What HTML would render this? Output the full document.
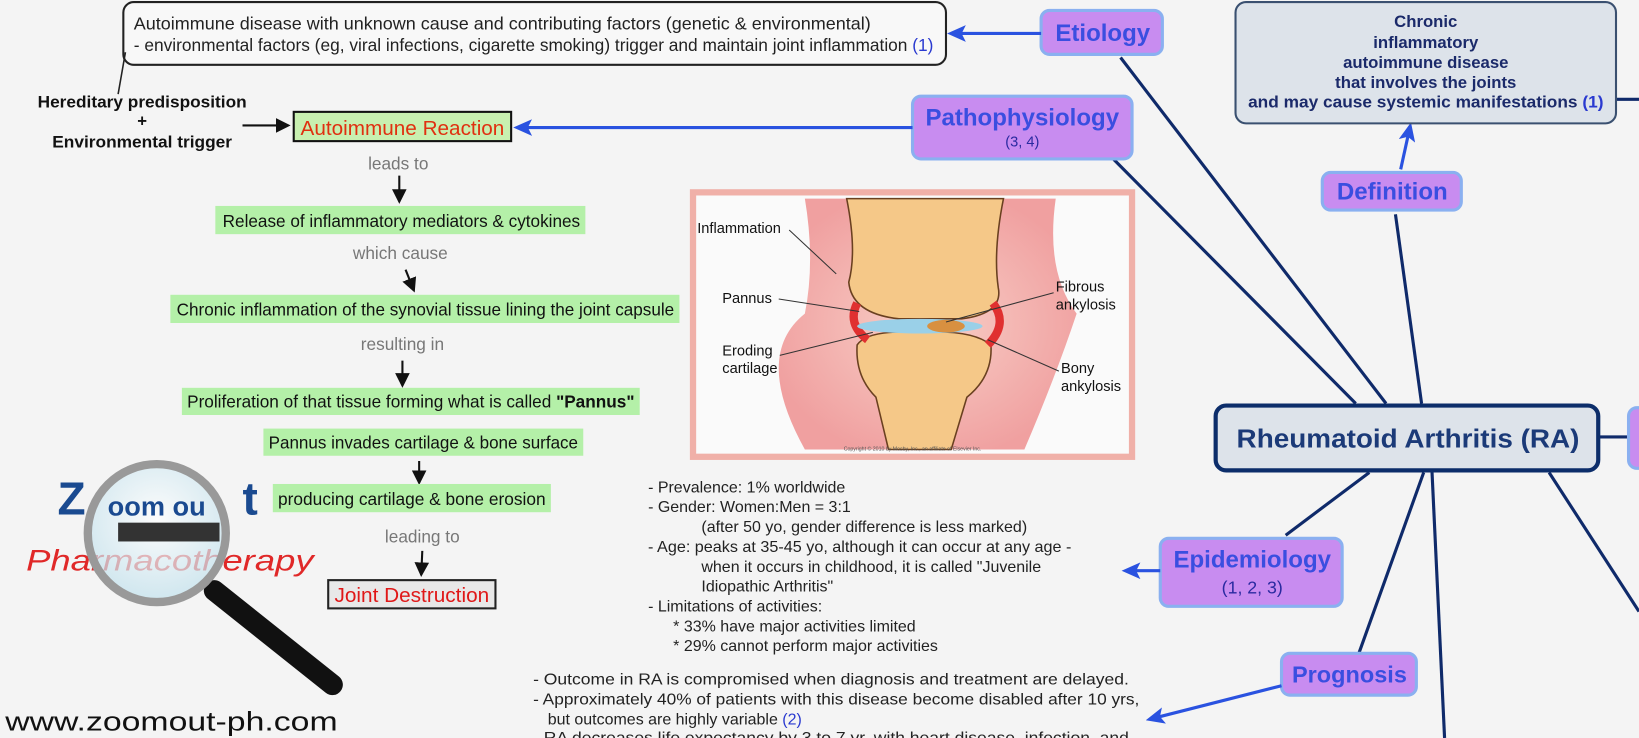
<!DOCTYPE html>
<html><head><meta charset="utf-8"><style>
html,body{margin:0;padding:0;background:#f4f4f4;width:1639px;height:738px;overflow:hidden}
svg{display:block}
text{font-family:"Liberation Sans",Arial,sans-serif}
</style></head><body>
<svg width="1639" height="738" viewBox="0 0 1568 706" xmlns="http://www.w3.org/2000/svg">
<defs>
<marker id="bA" markerWidth="18" markerHeight="16" refX="14" refY="8" orient="auto" markerUnits="userSpaceOnUse"><path d="M0,0 L18,8 L0,16 L4,8 z" fill="#2a52e0"/></marker>
<marker id="kA" markerWidth="14" markerHeight="14" refX="12" refY="7" orient="auto" markerUnits="userSpaceOnUse"><path d="M0,0 L14,7 L0,14 z" fill="#111"/></marker>
<radialGradient id="pg" cx="50%" cy="50%" r="55%"><stop offset="0" stop-color="#f8d0c8"/><stop offset="1" stop-color="#f0a0a0"/></radialGradient>
<radialGradient id="lens" cx="50%" cy="40%" r="60%"><stop offset="0" stop-color="#ffffff" stop-opacity=".7"/><stop offset="1" stop-color="#bfe0ec" stop-opacity=".7"/></radialGradient>
</defs>
<rect width="1568" height="706" fill="#f4f4f4"/>

<!-- RA connector lines -->
<g stroke="#0f2a6a" stroke-width="3" fill="none">
<line x1="1072" y1="55" x2="1326" y2="386"/>
<line x1="1065" y1="152" x2="1297" y2="386"/>
<line x1="1335" y1="205" x2="1360" y2="386"/>
<line x1="1530" y1="418" x2="1568" y2="418"/>
<line x1="1546" y1="95" x2="1568" y2="95"/>
<line x1="1310" y1="452" x2="1230" y2="512"/>
<line x1="1362" y1="452" x2="1300" y2="625"/>
<line x1="1370" y1="452" x2="1382" y2="706"/>
<line x1="1482" y1="452" x2="1568" y2="585"/>
</g>

<!-- Etiology box -->
<rect x="118" y="2" width="787" height="60" rx="10" fill="#f8f8f8" stroke="#222" stroke-width="2"/>
<line x1="120" y1="50" x2="113" y2="90" stroke="#222" stroke-width="1.5"/>
<text x="128" y="28" font-size="16.5" fill="#222" textLength="705" lengthAdjust="spacingAndGlyphs">Autoimmune disease with unknown cause and contributing factors (genetic &amp; environmental)</text>
<text x="128" y="49" font-size="16.5" fill="#222" textLength="765" lengthAdjust="spacingAndGlyphs">- environmental factors (eg, viral infections, cigarette smoking) trigger and maintain joint inflammation <tspan fill="#2a3ad0">(1)</tspan></text>

<!-- purple nodes -->
<g fill="#c88cf0" stroke="#8ab0f0" stroke-width="3">
<rect x="996" y="10" width="116" height="42" rx="8"/>
<rect x="873" y="92" width="210" height="60" rx="8"/>
<rect x="1265" y="165" width="133" height="36" rx="8"/>
<rect x="1110" y="515" width="174" height="65" rx="8"/>
<rect x="1226" y="625" width="129" height="40" rx="8"/>
<rect x="1558" y="390" width="20" height="58" rx="8"/>
</g>
<g font-weight="bold" fill="#3a4ee0" text-anchor="middle">
<text x="1055" y="39" font-size="23">Etiology</text>
<text x="978" y="120" font-size="23">Pathophysiology</text>
<text x="978" y="140" font-size="14" font-weight="normal" fill="#2a2aa0">(3, 4)</text>
<text x="1332" y="191" font-size="23">Definition</text>
<text x="1198" y="543" font-size="23">Epidemiology</text>
<text x="1198" y="568" font-size="17" font-weight="normal" fill="#2a2aa0">(1, 2, 3)</text>
<text x="1291" y="653" font-size="22.5">Prognosis</text>
</g>

<!-- blue arrows -->
<g stroke="#2a52e0" stroke-width="3" marker-end="url(#bA)">
<line x1="996" y1="32" x2="910" y2="32"/>
<line x1="873" y1="122" x2="495" y2="122"/>
<line x1="1340" y1="162" x2="1349" y2="121"/>
<line x1="1110" y1="546" x2="1077" y2="546"/>
<line x1="1226" y1="656" x2="1100" y2="688"/>
</g>

<!-- Definition box -->
<rect x="1182" y="2" width="364" height="116" rx="10" fill="#dde3ea" stroke="#3a5070" stroke-width="2"/>
<g font-size="16" font-weight="bold" fill="#1b2a6a" text-anchor="middle">
<text x="1364" y="26">Chronic</text>
<text x="1364" y="46">inflammatory</text>
<text x="1364" y="65">autoimmune disease</text>
<text x="1364" y="84">that involves the joints</text>
<text x="1364" y="103" textLength="340" lengthAdjust="spacingAndGlyphs">and may cause systemic manifestations <tspan fill="#2a3ad0">(1)</tspan></text>
</g>

<!-- RA -->
<rect x="1163" y="388" width="366" height="62" rx="10" fill="#dde3ea" stroke="#0c2d6a" stroke-width="4"/>
<text x="1347" y="428" font-size="25" fill="#1b3a78" text-anchor="middle" font-weight="bold" textLength="328" lengthAdjust="spacingAndGlyphs">Rheumatoid Arthritis (RA)</text>

<!-- pathophysiology flow -->
<g font-size="16" font-weight="bold" fill="#111" text-anchor="middle">
<text x="136" y="103" textLength="200" lengthAdjust="spacingAndGlyphs">Hereditary predisposition</text>
<text x="136" y="121">+</text>
<text x="136" y="141" textLength="172" lengthAdjust="spacingAndGlyphs">Environmental trigger</text>
</g>
<line x1="232" y1="120" x2="276" y2="120" stroke="#111" stroke-width="2" marker-end="url(#kA)"/>
<rect x="281" y="107" width="208" height="28" fill="#c8f0b0" stroke="#111" stroke-width="2"/>
<text x="385" y="129" font-size="19.5" fill="#e03010" text-anchor="middle" textLength="195" lengthAdjust="spacingAndGlyphs">Autoimmune Reaction</text>
<g font-size="16.5" fill="#777" text-anchor="middle">
<text x="381" y="162">leads to</text>
<text x="383" y="248">which cause</text>
<text x="385" y="335">resulting in</text>
<text x="404" y="519">leading to</text>
</g>
<g stroke="#111" stroke-width="2" marker-end="url(#kA)">
<line x1="382" y1="168" x2="382" y2="193"/>
<line x1="388" y1="258" x2="396" y2="278"/>
<line x1="385" y1="345" x2="385" y2="369"/>
<line x1="401" y1="441" x2="401" y2="462"/>
<line x1="404" y1="527" x2="403" y2="550"/>
</g>
<g fill="#b4f0a8">
<rect x="206" y="197" width="354" height="27"/>
<rect x="163" y="282" width="487" height="27"/>
<rect x="174" y="371" width="438" height="26"/>
<rect x="252" y="410" width="306" height="26"/>
<rect x="261" y="463" width="266" height="27"/>
</g>
<g font-size="16.5" fill="#111" text-anchor="middle">
<text x="384" y="217" textLength="342" lengthAdjust="spacingAndGlyphs">Release of inflammatory mediators &amp; cytokines</text>
<text x="407" y="302" textLength="476" lengthAdjust="spacingAndGlyphs">Chronic inflammation of the synovial tissue lining the joint capsule</text>
<text x="393" y="390" textLength="428" lengthAdjust="spacingAndGlyphs">Proliferation of that tissue forming what is called <tspan font-weight="bold">"Pannus"</tspan></text>
<text x="405" y="429" textLength="296" lengthAdjust="spacingAndGlyphs">Pannus invades cartilage &amp; bone surface</text>
<text x="394" y="483" textLength="256" lengthAdjust="spacingAndGlyphs">producing cartilage &amp; bone erosion</text>
</g>
<rect x="314" y="555" width="160" height="27" fill="#e8e8e8" stroke="#222" stroke-width="2"/>
<text x="394" y="576" font-size="19" fill="#e01818" text-anchor="middle" textLength="148" lengthAdjust="spacingAndGlyphs">Joint Destruction</text>

<!-- joint image -->
<rect x="663" y="184" width="420" height="253" fill="#fafafa" stroke="#f0b0a8" stroke-width="6"/>
<path d="M770,190 L1010,190 Q1000,260 1030,300 Q1010,360 980,430 L770,430 Q720,340 770,300 Q780,250 770,190Z" fill="url(#pg)"/>
<path d="M810,190 L960,190 Q950,240 955,275 Q960,300 920,305 L860,305 Q815,300 812,270 Q820,240 810,190Z" fill="#f5c888" stroke="#6a4020" stroke-width="1.5"/>
<path d="M820,330 Q830,315 880,318 Q930,315 948,330 Q950,360 925,380 L910,430 L850,430 L838,380 Q818,360 820,330Z" fill="#f5c888" stroke="#6a4020" stroke-width="1.5"/>
<path d="M820,290 Q810,310 830,325 M950,290 Q965,310 945,330" stroke="#e03030" stroke-width="8" fill="none"/>
<ellipse cx="880" cy="312" rx="60" ry="7" fill="#9ad0e8"/>
<ellipse cx="905" cy="312" rx="18" ry="6" fill="#d89040"/>
<g font-size="14" fill="#111">
<text x="667" y="223">Inflammation</text>
<text x="691" y="290">Pannus</text>
<text x="691" y="340">Eroding</text>
<text x="691" y="357">cartilage</text>
<text x="1010" y="279">Fibrous</text>
<text x="1010" y="296">ankylosis</text>
<text x="1015" y="357">Bony</text>
<text x="1015" y="374">ankylosis</text>
</g>
<g stroke="#333" stroke-width="1"><line x1="755" y1="220" x2="800" y2="262"/><line x1="745" y1="286" x2="822" y2="298"/><line x1="746" y1="340" x2="835" y2="318"/><line x1="1008" y1="280" x2="905" y2="308"/><line x1="1013" y1="355" x2="945" y2="325"/></g>
<text x="873" y="431" font-size="5" fill="#555" text-anchor="middle">Copyright © 2010 by Mosby, Inc., an affiliate of Elsevier Inc.</text>

<!-- epidemiology text -->
<g font-size="15.3" fill="#222">
<text x="620" y="471">- Prevalence: 1% worldwide</text>
<text x="620" y="490">- Gender: Women:Men = 3:1</text>
<text x="671" y="509">(after 50 yo, gender difference is less marked)</text>
<text x="620" y="528" textLength="405" lengthAdjust="spacingAndGlyphs">- Age: peaks at 35-45 yo, although it can occur at any age -</text>
<text x="671" y="547">when it occurs in childhood, it is called "Juvenile</text>
<text x="671" y="566">Idiopathic Arthritis"</text>
<text x="620" y="585">- Limitations of activities:</text>
<text x="644" y="604">* 33% have major activities limited</text>
<text x="644" y="623">* 29% cannot perform major activities</text>
<text x="510" y="655" textLength="570" lengthAdjust="spacingAndGlyphs">- Outcome in RA is compromised when diagnosis and treatment are delayed.</text>
<text x="510" y="674" textLength="580" lengthAdjust="spacingAndGlyphs">- Approximately 40% of patients with this disease become disabled after 10 yrs,</text>
<text x="524" y="693">but outcomes are highly variable <tspan fill="#2a3ad0">(2)</tspan></text>
<text x="510" y="711" textLength="570" lengthAdjust="spacingAndGlyphs">- RA decreases life expectancy by 3 to 7 yr, with heart disease, infection, and</text>
</g>

<!-- logo -->
<text x="55" y="492" font-size="44" fill="#1a4a90" font-weight="bold">Z</text>
<text x="232" y="492" font-size="44" fill="#1a4a90" font-weight="bold">t</text>
<text x="25" y="546" font-size="28" fill="#e02828" font-style="italic" textLength="275" lengthAdjust="spacingAndGlyphs">Pharmacotherapy</text>
<line x1="205" y1="565" x2="318" y2="655" stroke="#111" stroke-width="20" stroke-linecap="round"/>
<circle cx="150" cy="510" r="66" fill="url(#lens)" stroke="#999" stroke-width="8"/>
<text x="103" y="493" font-size="26" fill="#1a4a90" font-weight="bold">oom ou</text>
<rect x="113" y="500" width="97" height="18" fill="#333"/>
<text x="5" y="699" font-size="26" fill="#111" font-family="DejaVu Sans, sans-serif" textLength="318" lengthAdjust="spacingAndGlyphs">www.zoomout-ph.com</text>
</svg>
</body></html>
